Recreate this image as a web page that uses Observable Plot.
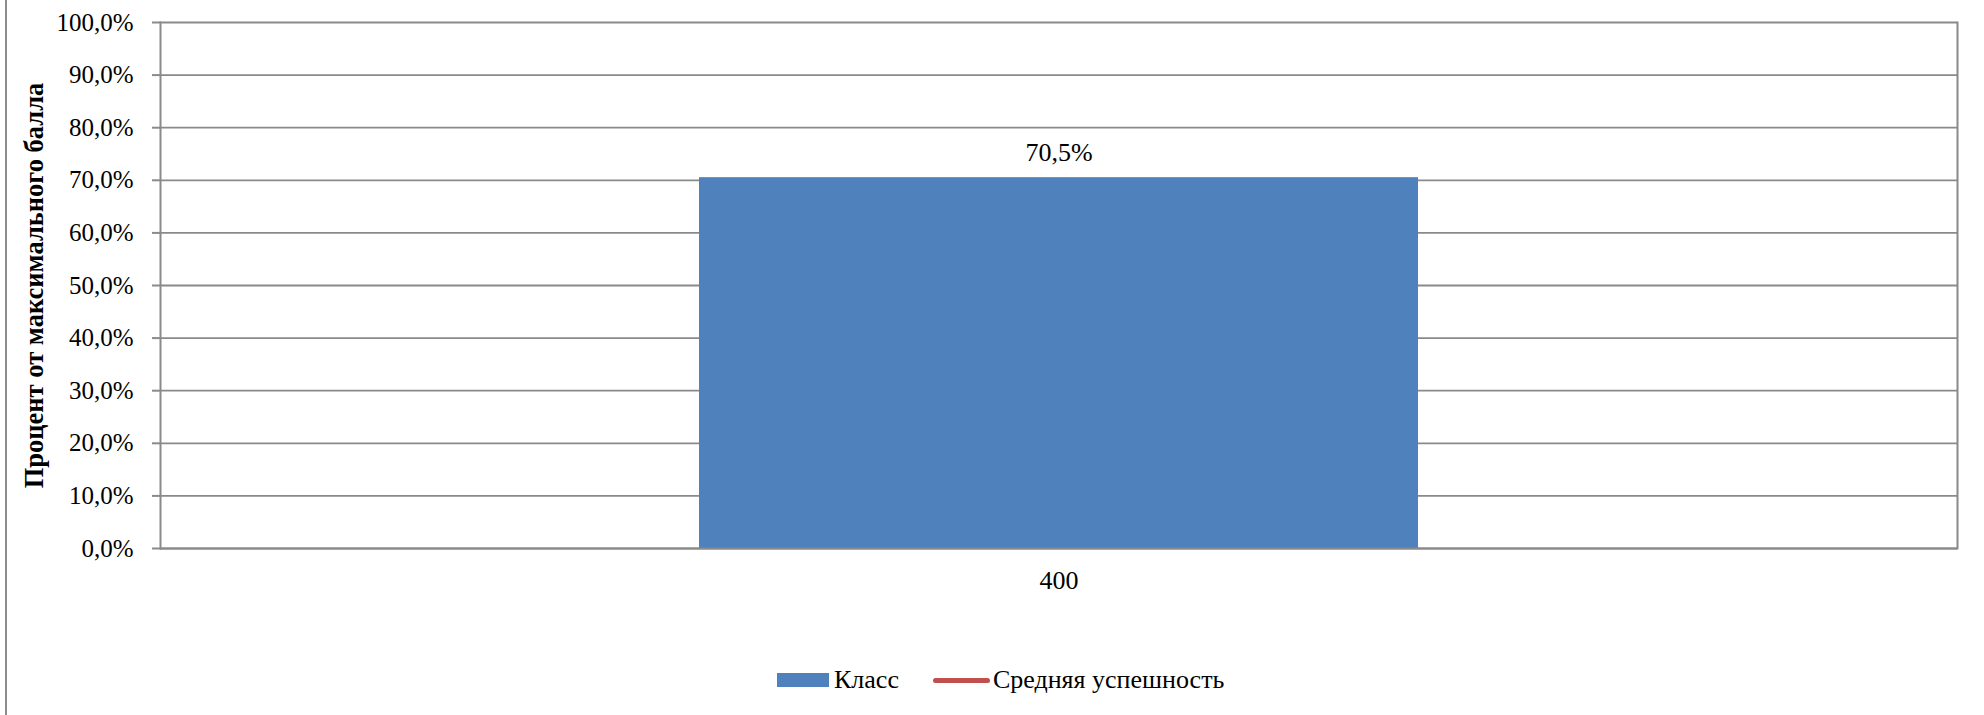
<!DOCTYPE html>
<html>
<head>
<meta charset="utf-8">
<script src="https://cdn.jsdelivr.net/npm/d3@7"></script>
<script src="https://cdn.jsdelivr.net/npm/@observablehq/plot@0.6"></script>
<style>
  html, body { margin: 0; padding: 0; background: #fff; }
  body { width: 1984px; height: 715px; overflow: hidden; position: relative; font-family: "Liberation Serif", "Times New Roman", serif; }
  #wrap { position: absolute; left: 0; top: 0; width: 1984px; height: 715px; }
  #border { position: absolute; left: 5px; top: 0; width: 2px; height: 715px; background: #8c8c8c; }
  #legend { position: absolute; left: 777px; top: 662px; height: 36px; display: flex; align-items: center; font-size: 26px; color: #000; white-space: nowrap; }
  .item { display: flex; align-items: center; }
  .sw { display: inline-block; }
</style>
</head>
<body>
<div id="wrap">
  <div id="border"></div>
  <div id="chart"></div>
  <div id="legend"></div>
</div>
<script>
const categories = ["400"];
const classValues = [0.705];
const seriesNames = ["Класс", "Средняя успешность"];
const seriesColors = ["#4F81BD", "#C0504D"];
const yTicks = [0, 0.1, 0.2, 0.3, 0.4, 0.5, 0.6, 0.7, 0.8, 0.9, 1.0];
const yLabel = "Процент от максимального балла";

const data = categories.map((c, i) => ({ cat: c, value: classValues[i] }));
const fmt = v => (v * 100).toFixed(1).replace(".", ",") + "%";

const chart = Plot.plot({
  width: 1984,
  height: 610,
  marginTop: 22,
  marginBottom: 62,
  marginLeft: 160,
  marginRight: 27,
  style: { fontFamily: "'Liberation Serif', 'Times New Roman', serif", fontSize: "25px", color: "#000", background: "transparent" },
  x: { domain: categories, paddingInner: 0.6, paddingOuter: 0.3, align: 0.5, axis: null },
  y: { domain: [0, 1], axis: null },
  marks: [
    Plot.ruleY(yTicks, { stroke: "#8a8a8a", strokeWidth: 1.8 }),
    Plot.barY(data, { x: "cat", y: "value", fill: seriesColors[0] }),
    Plot.ruleY([0], { stroke: "#8a8a8a", strokeWidth: 2 }),
    Plot.frame({ anchor: "left", stroke: "#8a8a8a", strokeWidth: 2 }),
    Plot.frame({ anchor: "right", stroke: "#8a8a8a", strokeWidth: 2 }),
    Plot.axisY({ ticks: yTicks, tickFormat: fmt, tickSize: 8, tickPadding: 19, stroke: "#8a8a8a", strokeWidth: 2, fontSize: 25, label: null }),
    Plot.axisX({ tickSize: 0, tickPadding: 22, fontSize: 26, label: null }),
    Plot.text([yLabel], { frameAnchor: "left", dx: -126, rotate: -90, textAnchor: "middle", fontWeight: "bold", fontSize: 26.5, fill: "#000" }),
    Plot.text(data, { x: "cat", y: "value", text: d => fmt(d.value), dy: -25, fontSize: 26, fill: "#000" })
  ]
});
document.getElementById("chart").appendChild(chart);

const legend = document.getElementById("legend");
seriesNames.forEach((name, i) => {
  const item = document.createElement("div");
  item.className = "item";
  const sw = document.createElement("span");
  sw.className = "sw";
  if (i === 0) {
    sw.style.width = "52px"; sw.style.height = "14px"; sw.style.marginRight = "5px"; sw.style.background = seriesColors[i];
  } else {
    item.style.marginLeft = "34px";
    sw.style.width = "57px"; sw.style.height = "5px"; sw.style.borderRadius = "3px"; sw.style.marginRight = "3px"; sw.style.background = seriesColors[i];
  }
  item.appendChild(sw);
  const t = document.createElement("span");
  t.textContent = name;
  item.appendChild(t);
  legend.appendChild(item);
});
</script>
</body>
</html>
